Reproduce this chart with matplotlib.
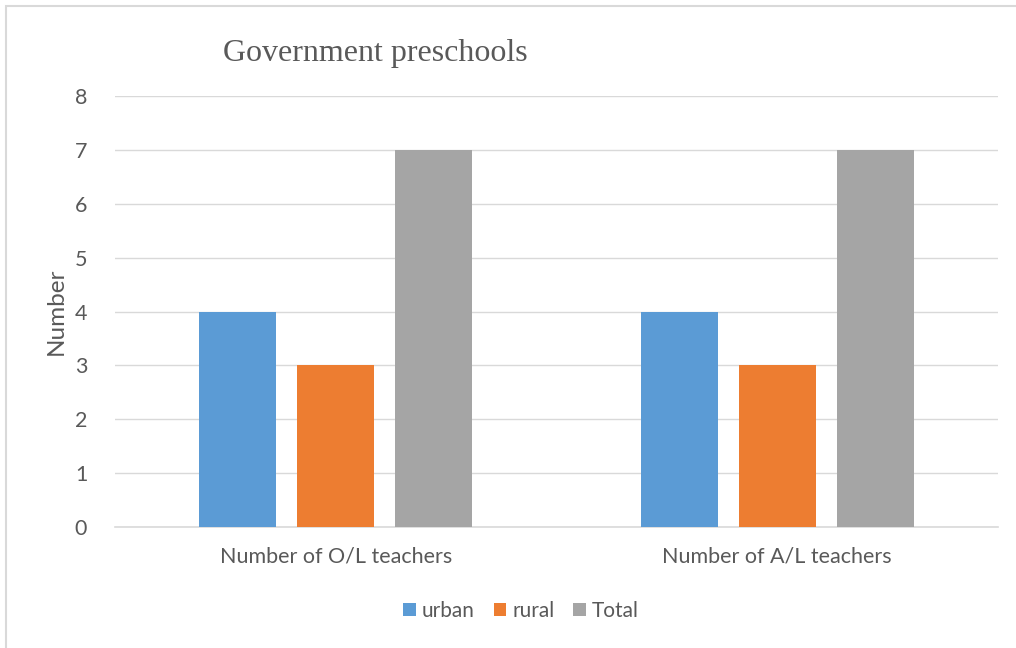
import matplotlib.pyplot as plt
import numpy as np
from matplotlib.patches import Rectangle

# data
categories = ["Number of O/L teachers", "Number of A/L teachers"]
series_names = ["urban", "rural", "Total"]
urban = [4, 4]
rural = [3, 3]
total = [7, 7]
colors = ["#5B9BD5", "#ED7D31", "#A5A5A5"]
yticks = [0, 1, 2, 3, 4, 5, 6, 7, 8]

text_col = "#595959"
plt.rcParams['font.family'] = ['Lato', 'DejaVu Sans']

fig = plt.figure(figsize=(10.16, 6.48), dpi=100)
ax = fig.add_axes([115 / 1016, 1 - 527 / 648, 883 / 1016, 431 / 648])

x = np.arange(len(categories))
width = 0.174
step = 0.222
for i, (vals, name) in enumerate(zip([urban, rural, total], series_names)):
    ax.bar(x + (i - 1) * step, vals, width, color=colors[i], label=name, zorder=3)

ax.set_xlim(-0.5, 1.5)
ax.set_ylim(0, 8)
ax.set_yticks(yticks)
ax.set_xticks(x)
ax.set_xticklabels(categories)
ax.grid(axis='y', color="#D9D9D9", linewidth=1, zorder=0)
for s in ['top', 'right', 'left']:
    ax.spines[s].set_visible(False)
ax.spines['bottom'].set_color("#D9D9D9")
ax.spines['bottom'].set_linewidth(1.2)
ax.tick_params(axis='both', length=0, colors=text_col, labelsize=15.5)
ax.tick_params(axis='y', pad=20)
ax.tick_params(axis='x', pad=14)
ax.set_ylabel("Number", fontsize=17.5, color=text_col, labelpad=6)

fig.text(375 / 1016, 1 - 53 / 648, "Government preschools", family="Liberation Serif",
         fontsize=23, color=text_col, ha='center', va='center')

ax.legend(loc='upper center', bbox_to_anchor=(0.46, -0.128), ncol=3, frameon=False,
          fontsize=15, handlelength=0.6, handleheight=0.6, handletextpad=0.3,
          columnspacing=0.9, labelcolor=text_col)

# outer chart frame
fig.patches.append(Rectangle((5.5 / 1016, -0.1), 1.2, 1.1 - 5.5 / 648, transform=fig.transFigure,
                             fill=False, edgecolor="#D9D9D9", linewidth=1.5))

fig.savefig("out.png", dpi=100)
